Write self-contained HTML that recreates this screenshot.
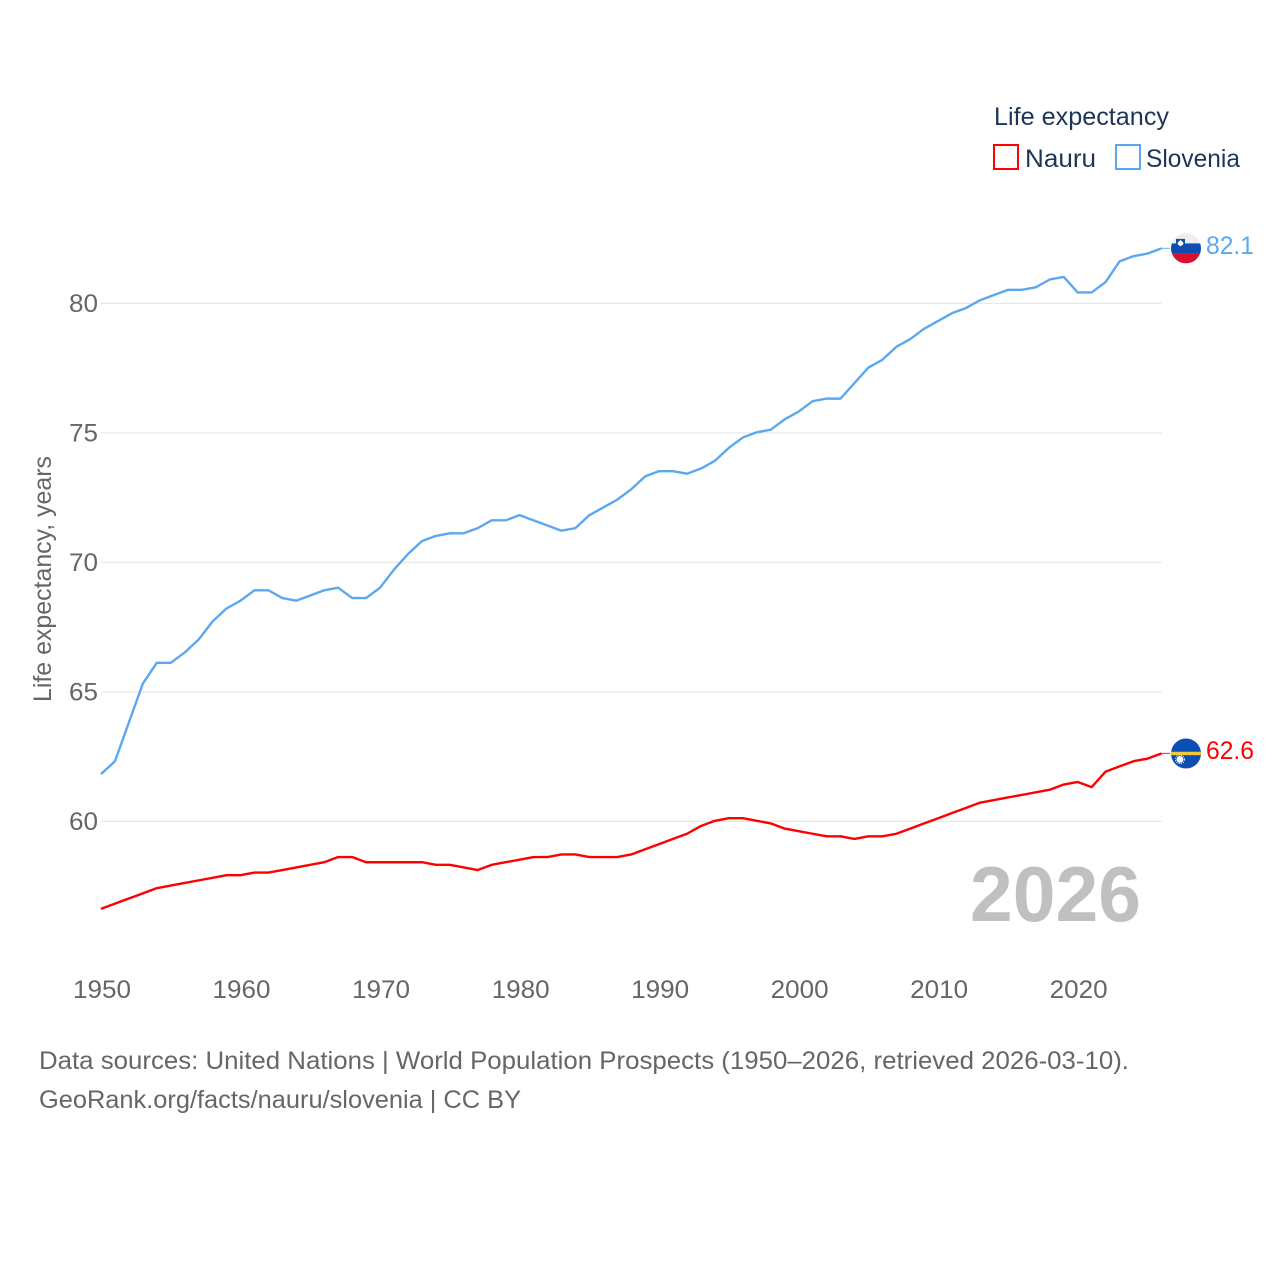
<!DOCTYPE html>
<html lang="en">
<head>
<meta charset="utf-8">
<title>Life expectancy: Nauru and Slovenia</title>
<style>
html,body{margin:0;padding:0;background:#fff;width:1280px;height:1280px;overflow:hidden}
svg{display:block}
text{font-family:"Liberation Sans",sans-serif}
</style>
</head>
<body>
<svg id="chart" width="1280" height="1280" viewBox="0 0 1280 1280" xmlns="http://www.w3.org/2000/svg">
<rect x="0" y="0" width="1280" height="1280" fill="#ffffff"/>
<defs>
<clipPath id="flag-clip-si"><circle id="clip-si" cx="1186" cy="248" r="15"/></clipPath>
<clipPath id="flag-clip-nr"><circle id="clip-nr" cx="1186" cy="753" r="15"/></clipPath>
</defs>
<g id="grid"></g>
<g id="ytick-labels"></g>
<g id="xtick-labels"></g>
<text transform="translate(51,702) rotate(-90)" font-size="25" fill="#666666" textLength="246" lengthAdjust="spacingAndGlyphs">Life expectancy, years</text>
<text x="970" y="921" font-size="78" font-weight="bold" fill="#c0c0c0" textLength="171" lengthAdjust="spacingAndGlyphs">2026</text>
<g id="series"></g>
<g id="flag-si"></g>
<g id="flag-nr"></g>
<g>
<text x="994" y="125" font-size="25" fill="#1d3557" textLength="175" lengthAdjust="spacingAndGlyphs">Life expectancy</text>
<rect x="994" y="145" width="24" height="24" fill="#ffffff" stroke="#ff0000" stroke-width="2"/>
<text x="1025" y="167" font-size="25" fill="#1d3557" textLength="71" lengthAdjust="spacingAndGlyphs">Nauru</text>
<rect x="1116" y="145" width="24" height="24" fill="#ffffff" stroke="#5ca8ef" stroke-width="2"/>
<text x="1146" y="167" font-size="25" fill="#1d3557" textLength="94" lengthAdjust="spacingAndGlyphs">Slovenia</text>
</g>
<text x="39" y="1069" font-size="25" fill="#666666" textLength="1090" lengthAdjust="spacingAndGlyphs">Data sources: United Nations | World Population Prospects (1950–2026, retrieved 2026-03-10).</text>
<text x="39" y="1108" font-size="25" fill="#666666" textLength="482" lengthAdjust="spacingAndGlyphs">GeoRank.org/facts/nauru/slovenia | CC BY</text>
</svg>
<script>
const years = [1950,1951,1952,1953,1954,1955,1956,1957,1958,1959,1960,1961,1962,1963,1964,1965,1966,1967,1968,1969,1970,1971,1972,1973,1974,1975,1976,1977,1978,1979,1980,1981,1982,1983,1984,1985,1986,1987,1988,1989,1990,1991,1992,1993,1994,1995,1996,1997,1998,1999,2000,2001,2002,2003,2004,2005,2006,2007,2008,2009,2010,2011,2012,2013,2014,2015,2016,2017,2018,2019,2020,2021,2022,2023,2024,2025,2026];
const slovenia = [61.8,62.3,63.8,65.3,66.1,66.1,66.5,67.0,67.7,68.2,68.5,68.9,68.9,68.6,68.5,68.7,68.9,69.0,68.6,68.6,69.0,69.7,70.3,70.8,71.0,71.1,71.1,71.3,71.6,71.6,71.8,71.6,71.4,71.2,71.3,71.8,72.1,72.4,72.8,73.3,73.5,73.5,73.4,73.6,73.9,74.4,74.8,75.0,75.1,75.5,75.8,76.2,76.3,76.3,76.9,77.5,77.8,78.3,78.6,79.0,79.3,79.6,79.8,80.1,80.3,80.5,80.5,80.6,80.9,81.0,80.4,80.4,80.8,81.6,81.8,81.9,82.1];
const nauru = [56.6,56.8,57.0,57.2,57.4,57.5,57.6,57.7,57.8,57.9,57.9,58.0,58.0,58.1,58.2,58.3,58.4,58.6,58.6,58.4,58.4,58.4,58.4,58.4,58.3,58.3,58.2,58.1,58.3,58.4,58.5,58.6,58.6,58.7,58.7,58.6,58.6,58.6,58.7,58.9,59.1,59.3,59.5,59.8,60.0,60.1,60.1,60.0,59.9,59.7,59.6,59.5,59.4,59.4,59.3,59.4,59.4,59.5,59.7,59.9,60.1,60.3,60.5,60.7,60.8,60.9,61.0,61.1,61.2,61.4,61.5,61.3,61.9,62.1,62.3,62.4,62.6];
const yTicks = [60,65,70,75,80];
const xTicks = [1950,1960,1970,1980,1990,2000,2010,2020];

const NS = 'http://www.w3.org/2000/svg';
function xScale(v){ return 101 + (v - 1950) * (1077.7 - 101) / 70; }
function yScale(v){ return 820.8 - (v - 60) * (820.8 - 302.8) / 20; }
function make(tag, attrs, parent){
  const el = document.createElementNS(NS, tag);
  for (const k in attrs) el.setAttribute(k, attrs[k]);
  parent.appendChild(el);
  return el;
}
const grid = document.getElementById('grid');
const yLabels = document.getElementById('ytick-labels');
const xLabels = document.getElementById('xtick-labels');
const seriesGroup = document.getElementById('series');

yTicks.forEach(function(t){
  const gy = yScale(t) + 0.6;
  const line = make('line', {x1:101, x2:1161.5, y1:gy, y2:gy, stroke:'#e8e8e8', 'stroke-width':1.3}, grid);
  
  
  const label = make('text', {x:98, y:gy+8.5, 'text-anchor':'end', 'font-size':25, fill:'#666666', textLength:29, lengthAdjust:'spacingAndGlyphs'}, yLabels);
  
  
  label.textContent = t;
});
xTicks.forEach(function(t){
  const label = make('text', {x:xScale(t)+1, y:998, 'text-anchor':'middle', 'font-size':25, fill:'#666666', textLength:58, lengthAdjust:'spacingAndGlyphs'}, xLabels);
  
  
  label.textContent = t;
});
function drawSeries(values, color, nameLine, nameLabel, nameConnector){
  const pts = values.map(function(v, i){ return xScale(years[i]).toFixed(2) + ',' + yScale(v).toFixed(2); });
  const last = values[values.length - 1];
  const lastY = yScale(last);
  const line = make('polyline', {points:pts.join(' '), fill:'none', stroke:color, 'stroke-width':2.4, 'stroke-linejoin':'round'}, seriesGroup);
  
  
  const conn = make('line', {x1:xScale(years[years.length - 1]), x2:1170, y1:lastY, y2:lastY, stroke:color, 'stroke-width':1.2, opacity:0.75}, seriesGroup);
  
  
  const label = make('text', {x:1206, y:lastY+5.5, 'font-size':25, fill:color, textLength:48, lengthAdjust:'spacingAndGlyphs'}, seriesGroup);
  
  
  label.textContent = last.toFixed(1);
}
drawSeries(nauru, '#ff0000', 'line-nauru', 'end-label-nauru', 'connector-nauru');
drawSeries(slovenia, '#5ca8ef', 'line-slovenia', 'end-label-slovenia', 'connector-slovenia');

// Flags follow the final value of each series
const siY = yScale(slovenia[slovenia.length - 1]);
const nrY = yScale(nauru[nauru.length - 1]);
document.getElementById('clip-si').setAttribute('cy', siY);
document.getElementById('clip-nr').setAttribute('cy', nrY);
const fSi = document.getElementById('flag-si');
fSi.setAttribute('clip-path', 'url(#flag-clip-si)');
make('rect', {x:1171, y:siY-15, width:30, height:10, fill:'#eeeeee'}, fSi);
make('rect', {x:1171, y:siY-5, width:30, height:10, fill:'#0c4fb0'}, fSi);
make('rect', {x:1171, y:siY+5, width:30, height:10, fill:'#d8102e'}, fSi);
make('path', {d:'M1176 '+(siY-9.5)+'h9v5q0 3-4.5 4.500q-4.500-1.500-4.500-4.500z', fill:'#0c4fb0'}, fSi);
make('path', {d:'M1177.500 '+(siY-5.5)+'l3-3l3 3q0 2-3 3.300q-3-1.300-3-3.300z', fill:'#ffffff'}, fSi);

const fNr = document.getElementById('flag-nr');
fNr.setAttribute('clip-path', 'url(#flag-clip-nr)');
make('rect', {x:1171, y:nrY-15, width:30, height:30, fill:'#0b4fb3'}, fNr);
make('rect', {x:1171, y:nrY-1.7, width:30, height:3.4, fill:'#f5c83c'}, fNr);
make('circle', {cx:1180, cy:nrY+6, r:3.4, fill:'#ffffff'}, fNr);
make('circle', {cx:1180, cy:nrY+6, r:4.4, fill:'none', stroke:'#ffffff', 'stroke-width':0.9, 'stroke-dasharray':'1.2 1.2'}, fNr);
</script>
</body>
</html>
